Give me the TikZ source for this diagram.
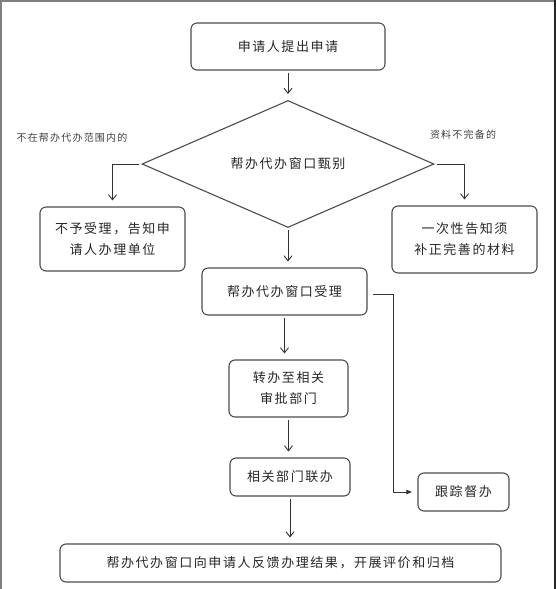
\documentclass[tikz,border=0pt]{standalone}
\usepackage{fontspec}
\newfontfamily\cjk[LetterSpace=12]{Noto Sans CJK SC}
\usetikzlibrary{arrows.meta,shapes.geometric}

\begin{document}
\begin{tikzpicture}[
  x=1pt,y=-1pt,
  >={Straight Barb[length=5pt,width=8pt]},
  box/.style={draw=black!70,line width=1.1pt,rounded corners=6pt,align=center,inner sep=0,
    font=\cjk\fontsize{13}{21}\selectfont,text=black!85},
  lbl/.style={font=\cjk\fontsize{10}{12}\selectfont,text=black!75},
  arr/.style={->,draw=black!80,line width=0.9pt,shorten <=2pt,shorten >=6pt},
]
  \useasboundingbox (0,0) rectangle (556,589);
  \draw[gray,line width=1.5pt] (1,589) -- (1,0.75) -- (555,0.75);
  \draw[black!85,line width=1.5pt] (555,0) -- (555,589);

  \node[box,minimum width=194pt,minimum height=47pt] (apply) at (288,46.5) {申请人提出申请};
  \node[diamond,draw=black!70,line width=1.1pt,minimum width=292pt,minimum height=102pt,inner sep=0,
    font=\cjk\fontsize{13}{21}\selectfont,text=black!85] (screen) at (288,164) {帮办代办窗口甄别};
  \node[box,minimum width=145pt,minimum height=64pt] (reject) at (112.5,239) {不予受理，告知申\\请人办理单位};
  \node[box,minimum width=145pt,minimum height=67pt] (supply) at (464.5,239.5) {一次性告知须\\补正完善的材料};
  \node[box,minimum width=165pt,minimum height=47pt] (accept) at (284.5,291.5) {帮办代办窗口受理};
  \node[box,minimum width=119pt,minimum height=57pt] (transfer) at (288.5,388.5) {转办至相关\\审批部门};
  \node[box,minimum width=120pt,minimum height=38pt] (joint) at (290,477) {相关部门联办};
  \node[box,minimum width=91pt,minimum height=38pt] (track) at (463.5,492) {跟踪督办};
  \node[box,minimum width=441pt,minimum height=38pt] (result) at (280.5,563) {帮办代办窗口向申请人反馈办理结果，开展评价和归档};

  \node[lbl] (outside) at (72,138) {不在帮办代办范围内的};
  \node[lbl] (incomplete) at (463,135) {资料不完备的};

  \foreach \a/\b in {apply/screen,screen/accept,accept/transfer,transfer/joint,joint/result}
    \draw[arr] (\a.south) -- (\a.south |- \b.north);
  \draw[arr] (screen.west) -| (reject.north);
  \draw[arr] (screen.east) -| (supply.north);
  \draw[draw=black!80,line width=0.9pt,-{Latex[length=6pt,width=5pt]},shorten >=5pt]
    (accept.east) ++(5,2.5) -- ++(21,0) |- (track.west);
\end{tikzpicture}
\end{document}
